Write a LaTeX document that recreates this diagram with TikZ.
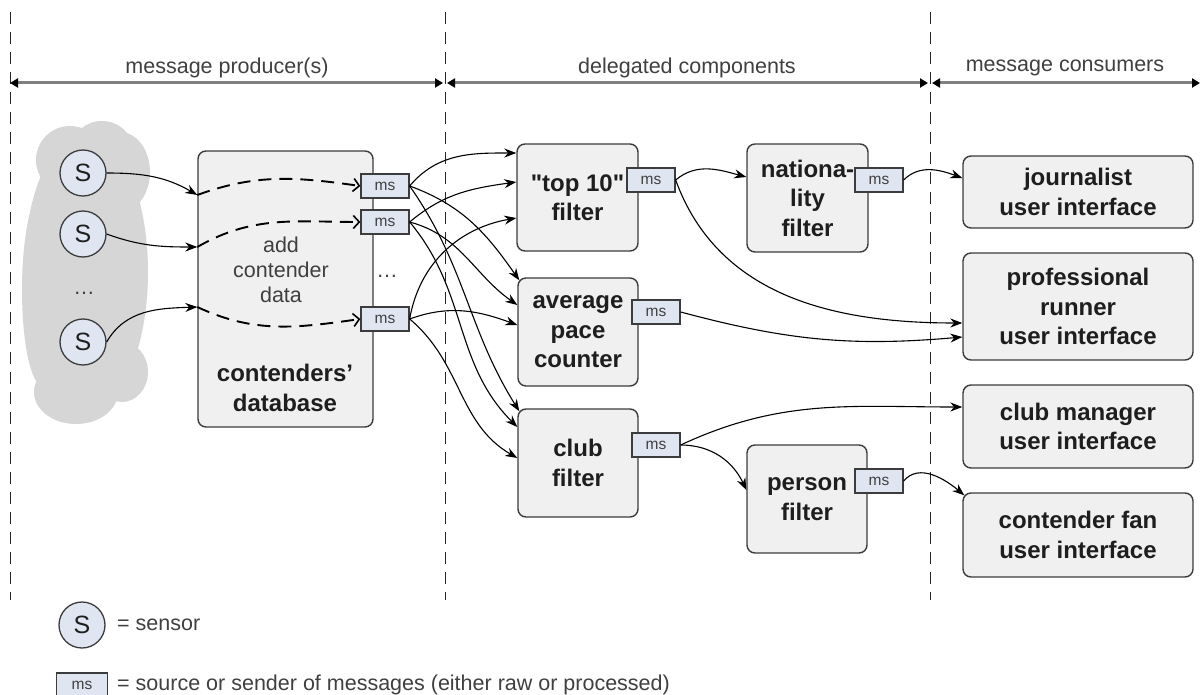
\documentclass[tikz,border=0pt]{standalone}
\usepackage{fontspec}
\setmainfont{Liberation Sans}
\usetikzlibrary{arrows.meta}
\definecolor{bdr}{HTML}{3C3C3C}
\definecolor{boxfill}{HTML}{F0F0F0}
\definecolor{msfill}{HTML}{DFE6F2}
\definecolor{cloudgray}{HTML}{D6D6D6}
\definecolor{bandgray}{HTML}{808080}
\definecolor{txt}{HTML}{1E1E1E}
\definecolor{softtxt}{HTML}{404040}
% straight double quote, set as a glyph so the TeX mapping leaves it alone
\newcommand\straightdq{\XeTeXglyph\XeTeXcharglyph"22\relax}
\tikzset{
  component/.style={draw=bdr, fill=boxfill, rounded corners=8pt, line width=1.4pt,
    align=center, inner sep=0pt, text=txt,
    font=\bfseries\fontsize{24}{29.5}\selectfont},
  msbox/.style={draw=bdr, fill=msfill, line width=1.3pt, minimum width=48pt,
    minimum height=24pt, inner sep=0pt, text=softtxt, font=\fontsize{15.5}{18}\selectfont},
  sensor/.style={circle, draw=bdr, fill=msfill, line width=1.3pt, minimum size=46pt,
    inner sep=0pt, text=txt, font=\fontsize{25}{30}\selectfont},
  plain/.style={text=softtxt, font=\fontsize{21.5}{25}\selectfont, inner sep=0pt},
  flow/.style={-{Stealth[length=12pt,width=9pt]}, line width=1.1pt, black},
  feed/.style={-{Straight Barb[length=6pt,width=13pt,line width=1.6pt]},
    line width=1.9pt, dash pattern=on 13pt off 8pt, black},
  divider/.style={line width=1pt, dash pattern=on 12pt off 8pt, black!85},
  band/.style={line width=3pt, bandgray,
    {Triangle[length=8pt,width=9pt,color=black]}-{Triangle[length=8pt,width=9pt,color=black]}},
}
\begin{document}
\begin{tikzpicture}[x=1pt,y=-1pt]
\clip (0,0) rectangle (1201,695);
\fill[white] (0,0) rectangle (1201,695);

% cloud of sensors
\begin{scope}[cloudgray]
  \fill (86,272) ellipse [x radius=62, y radius=140];
  \fill (102,148) ellipse [x radius=30, y radius=27];
  \fill (70,160) ellipse [x radius=34, y radius=34];
  \fill (120,172) ellipse [x radius=30, y radius=40];
  \fill (42,290) ellipse [x radius=20, y radius=95];
  \fill (76,392) ellipse [x radius=42, y radius=32];
  \fill (122,372) ellipse [x radius=26, y radius=30];
\end{scope}

% section dividers
\coordinate (d1t) at (10,12);  \coordinate (d1b) at (10,600);
\coordinate (d2t) at (445,12); \coordinate (d2b) at (445,600);
\coordinate (d3t) at (930,12); \coordinate (d3b) at (930,600);
\draw[divider] (d1t) -- (d1b);
\draw[divider] (d2t) -- (d2b);
\draw[divider] (d3t) -- (d3b);

% section bands
\coordinate (h0) at (10,83);   \coordinate (h1l) at (443,83);
\coordinate (h1r) at (447,83); \coordinate (h2l) at (928,83);
\coordinate (h2r) at (932,83); \coordinate (h3) at (1200,83);
\draw[band] (h0) -- (h1l);
\draw[band] (h1r) -- (h2l);
\draw[band] (h2r) -- (h3);
\node[plain] (lprod) at (227,68) {message producer(s)};
\node[plain] (ldeleg) at (687,68) {delegated components};
\node[plain] (lcons) at (1065,68) {message consumers};

% sensors
\node[sensor] (s1) at (83,173) {S};
\node[sensor] (s2) at (83,234) {S};
\node[sensor] (s3) at (83,342) {S};
\node[plain] (sdots) at (84,293) {\dots};

% database
\node[component, minimum width=175pt, minimum height=276pt] (db) at (285.5,289) {};
\node[plain, align=center] (dbadd) at (281,270) {add\\contender\\data};
\node[inner sep=0pt, align=center, text=txt, font=\bfseries\fontsize{24}{29.5}\selectfont]
  (dbname) at (285,388) {contenders'\\database};
\coordinate (in1) at ([yshift=94pt]db.west);
\coordinate (in2) at ([yshift=42pt]db.west);
\coordinate (in3) at ([yshift=-18pt]db.west);

% delegated components
\node[component, minimum width=121pt, minimum height=107pt] (top) at (577.5,197.5) {\straightdq top 10\straightdq\\filter};
\node[component, minimum width=120pt, minimum height=108pt] (avg) at (578,332) {average\\pace\\counter};
\node[component, minimum width=120pt, minimum height=108pt] (club) at (578,463) {club\\filter};
\node[component, minimum width=121pt, minimum height=108pt] (nat) at (807.5,198) {nationa-\\lity\\filter};
\node[component, minimum width=120pt, minimum height=108pt] (person) at (807,499) {person\\filter};

% consumers
\node[component, minimum width=230pt, minimum height=72pt] (jour) at (1078,192) {journalist\\user interface};
\node[component, minimum width=230pt, minimum height=107pt] (prof) at (1078,306.5) {professional\\runner\\user interface};
\node[component, minimum width=230pt, minimum height=83pt] (cm) at (1078,426.5) {club manager\\user interface};
\node[component, minimum width=230pt, minimum height=84pt] (fan) at (1078,535) {contender fan\\user interface};

% message senders
\node[msbox] (ms1) at (385,186) {ms};
\node[msbox] (ms2) at (385,222) {ms};
\node[msbox] (ms3) at (385,319) {ms};
\node[plain] (msdots) at (387,276) {\dots};
\node[msbox] (topms) at (651,180) {ms};
\node[msbox] (avgms) at (656,312) {ms};
\node[msbox] (clubms) at (656,445) {ms};
\node[msbox] (natms) at (879,180) {ms};
\node[msbox] (perms) at (879,481) {ms};

% sensors into the database
\draw[flow] (s1.east) to[out=0, in=150] (in1);
\draw[flow] (s2.east) to[out=-20, in=180] (in2);
\draw[flow] (s3.east) to[out=60, in=182] (in3);
\draw[feed] (in1) to[out=20, in=172] (ms1.west);
\draw[feed] (in2) to[out=30, in=180] (ms2.west);
\draw[feed] (in3) to[out=-25, in=188] (ms3.west);

% database senders to the filters
\draw[flow] (ms1.east) to[out=50, in=180] ([yshift=44.5pt]top.west);
\draw[flow] (ms2.east) to[out=40, in=188] ([yshift=15.5pt]top.west);
\draw[flow] (ms3.east) to[out=80, in=190] ([yshift=-20.5pt]top.west);
\draw[flow] (ms1.east) to[out=-20, in=125] ([xshift=2pt,yshift=-3pt]avg.north west);
\draw[flow] (ms2.east) to[out=-15, in=145] ([yshift=27pt]avg.west);
\draw[flow] (ms3.east) to[out=20, in=160] ([yshift=7pt]avg.west);
\draw[flow] (ms1.east) to[out=-55, in=122] ([xshift=2pt,yshift=-3pt]club.north west);
\draw[flow] (ms2.east) to[out=-50, in=135] ([yshift=36pt]club.west);
\draw[flow] (ms3.east) to[out=-40, in=150] ([yshift=5pt]club.west);

% filter outputs
\draw[flow] (topms.east) to[out=40, in=165] ([yshift=21pt]nat.west);
\draw[flow] (topms.east) to[out=-70, in=180] ([yshift=-16.5pt]prof.west);
\draw[flow] (avgms.east) to[out=-15, in=185] ([yshift=-30.5pt]prof.west);
\draw[flow] (natms.east) to[out=45, in=160] ([yshift=14pt]jour.west);
\draw[flow] (clubms.east) to[out=25, in=180] ([yshift=19.5pt]cm.west);
\draw[flow] (clubms.east) to[out=0, in=115] ([yshift=9pt]person.west);
\draw[flow] (perms.east) to[out=50, in=140] ([xshift=2pt,yshift=-3pt]fan.north west);

% legend
\node[sensor] (legs) at (82,625) {S};
\node[plain, anchor=west] (legstext) at (117,625) {= sensor};
\node[msbox, minimum width=51pt] (legms) at (82,685) {ms};
\node[plain, anchor=west] (legmstext) at (117,685) {= source or sender of messages (either raw or processed)};
\end{tikzpicture}
\end{document}
